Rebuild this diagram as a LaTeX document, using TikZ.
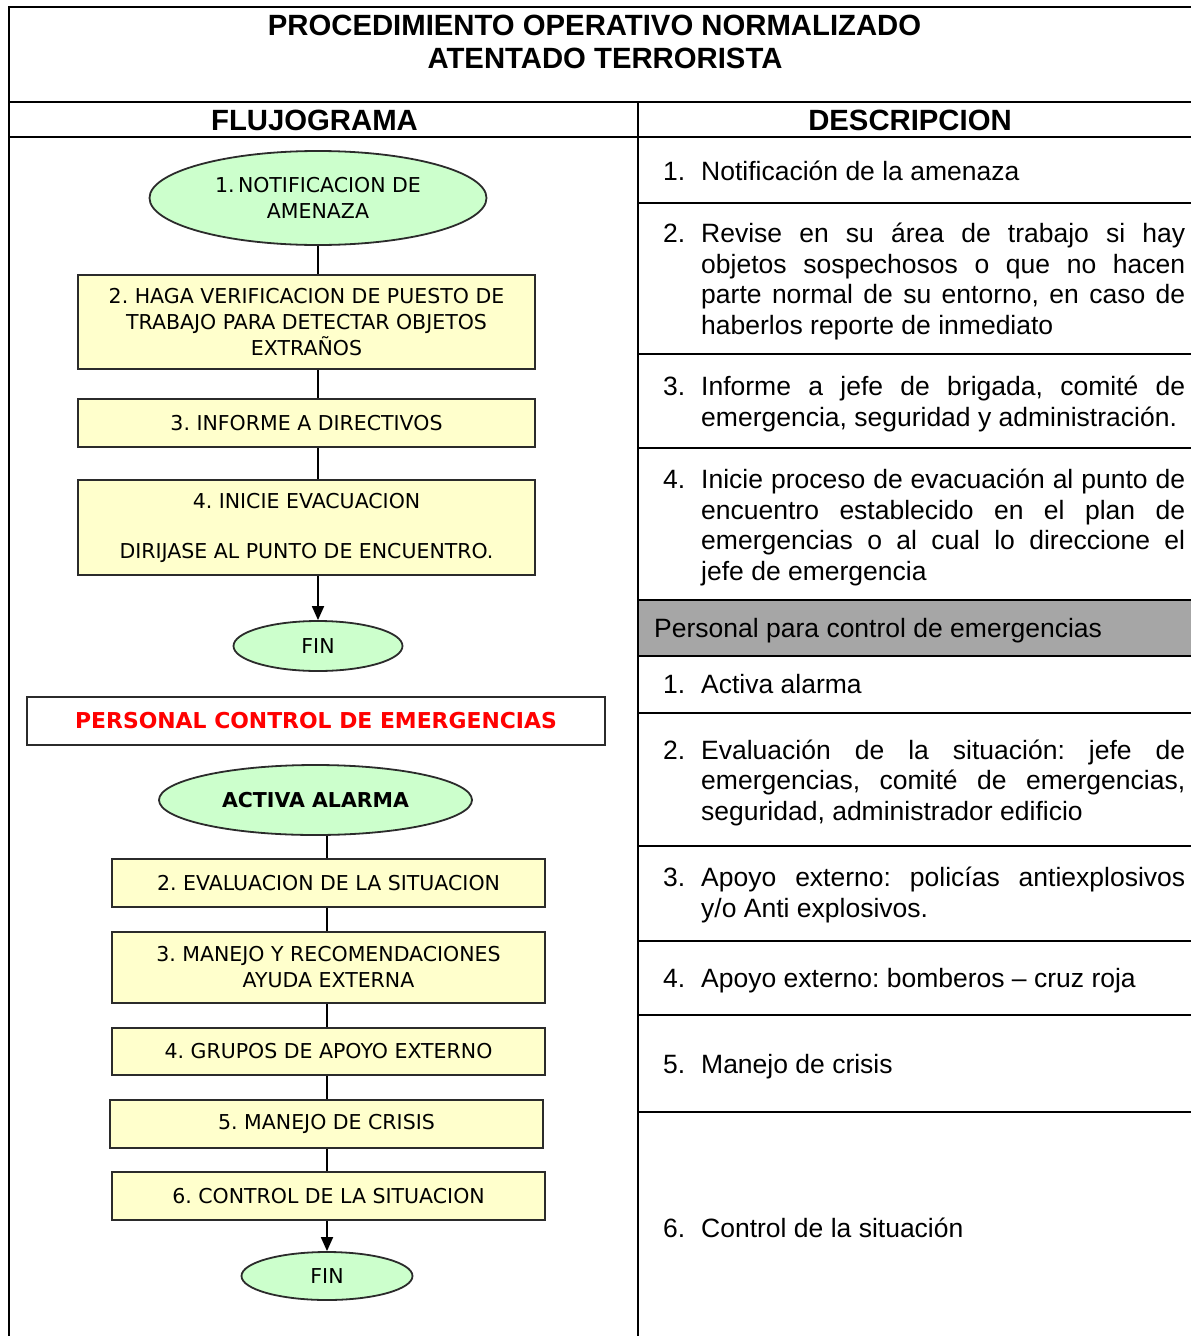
\documentclass[tikz,border=0pt]{standalone}
\usepackage{fontspec}
\setmainfont{Liberation Sans}
\newfontfamily\flowfont{DejaVu Sans}
\usetikzlibrary{shapes.geometric,arrows.meta}
\definecolor{fgreen}{HTML}{CCFFCC}
\definecolor{fyellow}{HTML}{FFFFCC}
\definecolor{fborder}{HTML}{2B2B2B}
\definecolor{rowgray}{HTML}{A6A6A6}
\definecolor{alertred}{HTML}{FF0000}
\newcommand\dnum[1]{\makebox[38pt][l]{#1}}
\newcommand\djust[1]{\makebox[484pt][s]{#1}}
\newcommand\dind{\hspace*{38pt}}
\frenchspacing
\begin{document}
\begin{tikzpicture}[x=1pt,y=-1pt,
  gridline/.style={line width=2pt, black},
  term/.style={ellipse, draw=fborder, line width=1.8pt, fill=fgreen, inner sep=0pt,
    font=\flowfont\fontsize{20.5}{26}\selectfont, align=center},
  proc/.style={rectangle, draw=fborder, line width=1.8pt, fill=fyellow, inner sep=0pt,
    font=\flowfont\fontsize{20.5}{26}\selectfont, align=center},
  flow/.style={line width=1.8pt, black},
  arrowflow/.style={flow, -{Triangle[length=14pt,width=12pt]}},
  desc/.style={anchor=base west, inner sep=0pt, align=left,
    font=\fontsize{26.5}{30.7}\selectfont},
  ttl/.style={font=\bfseries\fontsize{29.3}{33}\selectfont, inner sep=0pt}
]
\useasboundingbox (0,0) rectangle (1191,1336);
\fill[white] (0,0) rectangle (1191,1336);

% ---------- table grid ----------
\fill[rowgray] (638,600) rectangle (1191,656);
\draw[gridline] (9,1336) -- (9,7) -- (1191,7);
\draw[gridline] (9,102) -- (1191,102);
\draw[gridline] (9,137) -- (1191,137);
\draw[gridline] (638,102) -- (638,1336);
\foreach \yy in {203,354,448,600,656,713,846,941,1015,1112}
  \draw[gridline] (638,\yy) -- (1191,\yy);

% ---------- titles ----------
\node[ttl] (title1) at (594.5,25) {PROCEDIMIENTO OPERATIVO NORMALIZADO};
\node[ttl] (title2) at (605,58) {ATENTADO TERRORISTA};
\node[ttl] (hflow) at (314.5,120) {FLUJOGRAMA};
\node[ttl] (hdesc) at (910,120) {DESCRIPCION};

% ---------- descriptions (y = baseline of the last line) ----------
\node[desc] (d1) at (663,180.5) {\dnum{1.}Notificación de la amenaza};
\node[desc] (d2) at (663,334.5) {\dnum{2.}\djust{Revise en su área de trabajo si hay}\\
  \dind\djust{objetos sospechosos o que no hacen}\\
  \dind\djust{parte normal de su entorno, en caso de}\\
  \dind haberlos reporte de inmediato};
\node[desc] (d3) at (663,426.5) {\dnum{3.}\djust{Informe a jefe de brigada, comité de}\\
  \dind emergencia, seguridad y administración.};
\node[desc] (d4) at (663,580.5) {\dnum{4.}\djust{Inicie proceso de evacuación al punto de}\\
  \dind\djust{encuentro establecido en el plan de}\\
  \dind\djust{emergencias o al cual lo direccione el}\\
  \dind jefe de emergencia};
\node[desc] (dgray) at (654,637.5) {Personal para control de emergencias};
\node[desc] (e1d) at (663,693.5) {\dnum{1.}Activa alarma};
\node[desc] (e2d) at (663,820.5) {\dnum{2.}\djust{Evaluación de la situación: jefe de}\\
  \dind\djust{emergencias, comité de emergencias,}\\
  \dind seguridad, administrador edificio};
\node[desc] (e3d) at (663,917.5) {\dnum{3.}\djust{Apoyo externo: policías antiexplosivos}\\
  \dind y/o Anti explosivos.};
\node[desc] (e4d) at (663,987.5) {\dnum{4.}Apoyo externo: bomberos – cruz roja};
\node[desc] (e5d) at (663,1073.5) {\dnum{5.}Manejo de crisis};
\node[desc] (e6d) at (663,1237.5) {\dnum{6.}Control de la situación};

% ---------- flowchart 1 ----------
\node[term, minimum width=337pt, minimum height=94pt] (n1) at (318,198)
  {1.\,NOTIFICACION DE\\AMENAZA};
\node[proc, minimum width=457pt, minimum height=94pt] (n2) at (306.5,322)
  {2. HAGA VERIFICACION DE PUESTO DE\\TRABAJO PARA DETECTAR OBJETOS\\EXTRAÑOS};
\node[proc, minimum width=457pt, minimum height=48pt] (n3) at (306.5,423)
  {3. INFORME A DIRECTIVOS};
\node[proc, minimum width=457pt, minimum height=95pt] (n4) at (306.5,527.5)
  {4. INICIE EVACUACION\\[24pt]DIRIJASE AL PUNTO DE ENCUENTRO.};
\node[term, minimum width=169pt, minimum height=50pt] (fin1) at (318,646) {FIN};

\draw[flow] (n1.south) -- (n1.south |- n2.north);
\draw[flow] (n2.south -| n1.south) -- (n3.north -| n1.south);
\draw[flow] (n3.south -| n1.south) -- (n4.north -| n1.south);
\draw[arrowflow] (n4.south -| fin1.north) -- (fin1.north);

% ---------- personal control ----------
\node[rectangle, draw=fborder, line width=1.6pt, fill=white, minimum width=578pt,
  minimum height=48pt, inner sep=0pt, text=alertred,
  font=\flowfont\bfseries\fontsize{21.9}{26}\selectfont] (pce) at (316,721)
  {PERSONAL CONTROL DE EMERGENCIAS};

% ---------- flowchart 2 ----------
\node[term, minimum width=313pt, minimum height=70pt,
  font=\flowfont\bfseries\fontsize{20.5}{26}\selectfont] (a1) at (315.5,800) {ACTIVA ALARMA};
\node[proc, minimum width=433pt, minimum height=48pt] (c2) at (328.5,883)
  {2. EVALUACION DE LA SITUACION};
\node[proc, minimum width=433pt, minimum height=71pt] (c3) at (328.5,967.5)
  {3. MANEJO Y RECOMENDACIONES\\AYUDA EXTERNA};
\node[proc, minimum width=433pt, minimum height=47pt] (c4) at (328.5,1051.5)
  {4. GRUPOS DE APOYO EXTERNO};
\node[proc, minimum width=433pt, minimum height=48pt] (c5) at (326.5,1124)
  {5. MANEJO DE CRISIS};
\node[proc, minimum width=433pt, minimum height=48pt] (c6) at (328.5,1196)
  {6. CONTROL DE LA SITUACION};
\node[term, minimum width=171pt, minimum height=48pt] (fin2) at (327,1276) {FIN};

\coordinate (axis2) at (327,0);
\draw[flow] (a1.south -| axis2) -- (c2.north -| axis2);
\draw[flow] (c2.south -| axis2) -- (c3.north -| axis2);
\draw[flow] (c3.south -| axis2) -- (c4.north -| axis2);
\draw[flow] (c4.south -| axis2) -- (c5.north -| axis2);
\draw[flow] (c5.south -| axis2) -- (c6.north -| axis2);
\draw[arrowflow] (c6.south -| axis2) -- (fin2.north);
\end{tikzpicture}
\end{document}
